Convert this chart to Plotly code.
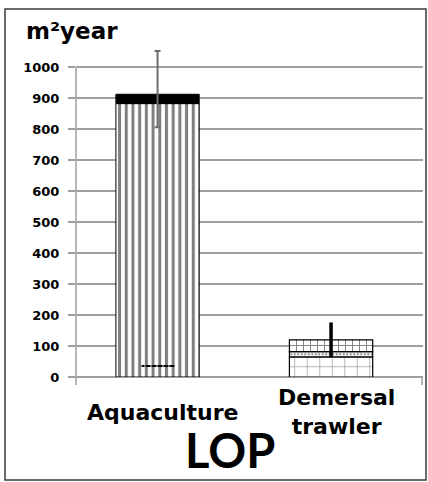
import plotly.graph_objects as go

# ---- data ----
categories = ["Aquaculture", "Demersal trawler"]
category_labels = ["Aquaculture", "Demersal<br>trawler"]

aqua_stripes = [882]        # vertical-stripe segment (0 -> 882)
aqua_top = [30]             # solid black cap (882 -> 912)
aqua_mark_base = [32]       # small dashed mark inside the bar
aqua_mark_height = [7]
aqua_err_plus = [140]
aqua_err_minus = [106]

dem_dotted = [65]           # dotted-grid segment
dem_mid = [17]              # fine dotted band
dem_brick = [38]            # brick segment
dem_err = [56]

y_ticks = [0, 100, 200, 300, 400, 500, 600, 700, 800, 900, 1000]

axis_title = "m²year"
chart_label = "LOP"

# ---- style ----
OFF = -0.27
W = 0.48
FONT = "DejaVu Sans"
grid_col = "#9f9f9f"

fig = go.Figure()

a = categories[0]
d = categories[1]

# Aquaculture
fig.add_trace(go.Bar(
    x=[a], y=aqua_stripes, base=[0], offset=OFF, width=W,
    marker=dict(color="white", line=dict(color="black", width=1),
                pattern=dict(shape="|", fgcolor="black", bgcolor="white",
                             size=6.7, solidity=0.45)),
    showlegend=False, hoverinfo="skip"))
fig.add_trace(go.Bar(
    x=[a], y=aqua_top, base=aqua_stripes, offset=OFF, width=W,
    marker=dict(color="black", line=dict(color="black", width=1)),
    error_y=dict(type="data", symmetric=False, array=aqua_err_plus,
                 arrayminus=aqua_err_minus, color="#6e6e6e",
                 thickness=2, width=3),
    showlegend=False, hoverinfo="skip"))
fig.add_trace(go.Bar(
    x=[a], y=aqua_mark_height, base=aqua_mark_base, offset=-0.122, width=0.192,
    marker=dict(color="black", line=dict(width=0),
                pattern=dict(shape="|", fgcolor="white", bgcolor="black",
                             size=6, solidity=0.28)),
    showlegend=False, hoverinfo="skip"))

# Demersal trawler
fig.add_trace(go.Bar(
    x=[d], y=dem_dotted, base=[0], offset=OFF, width=W,
    marker=dict(color="white", line=dict(color="black", width=1.2),
                pattern=dict(shape="+", fgcolor="#222", bgcolor="white",
                             size=12.5, solidity=0.1)),
    showlegend=False, hoverinfo="skip"))
fig.add_trace(go.Bar(
    x=[d], y=dem_mid, base=dem_dotted, offset=OFF, width=W,
    marker=dict(color="white", line=dict(color="black", width=1.2),
                pattern=dict(shape=".", fgcolor="#111", bgcolor="white",
                             size=3.5, solidity=0.35)),
    showlegend=False, hoverinfo="skip"))
fig.add_trace(go.Bar(
    x=[d], y=dem_brick, base=[dem_dotted[0] + dem_mid[0]], offset=OFF, width=W,
    marker=dict(color="white", line=dict(color="black", width=1.2),
                pattern=dict(shape="+", fgcolor="black", bgcolor="white",
                             size=7, solidity=0.25)),
    error_y=dict(type="data", symmetric=True, array=dem_err,
                 color="black", thickness=3.5, width=0),
    showlegend=False, hoverinfo="skip"))

H = 329.0
px_per_unit = 310.0 / 1000.0

fig.update_layout(
    width=428, height=482,
    margin=dict(l=76, r=5, t=48, b=105),
    paper_bgcolor="white", plot_bgcolor="white",
    barmode="overlay",
    font=dict(family=FONT, color="black"),
    xaxis=dict(type="category", categoryorder="array", categoryarray=categories,
               range=[-0.5, 1.5], showticklabels=False, ticks="",
               showgrid=False, zeroline=False, showline=False),
    yaxis=dict(range=[0, H / px_per_unit], tickvals=y_ticks,
               ticktext=[str(v) for v in y_ticks],
               tickfont=dict(family=FONT, size=13, color="black", weight="bold"),
               ticks="outside", ticklen=7, tickwidth=1.5, tickcolor=grid_col,
               ticklabelstandoff=6,
               showgrid=True, gridcolor=grid_col, gridwidth=1.5,
               zeroline=True, zerolinecolor=grid_col, zerolinewidth=1.5,
               showline=False),
)

# axis line, end tick and outer frame
y_top = 1000 * px_per_unit / H
fig.add_shape(type="line", xref="paper", yref="paper", x0=0, x1=0,
              y0=-8 / H, y1=y_top, line=dict(color=grid_col, width=1.5))
fig.add_shape(type="line", xref="paper", yref="paper", x0=0.997, x1=0.997,
              y0=-8 / H, y1=0, line=dict(color=grid_col, width=1.5))
fig.add_shape(type="rect", xref="paper", yref="paper",
              x0=(5 - 76) / 347, x1=(426 - 76) / 347,
              y0=(377 - 480) / H, y1=(377 - 9) / H,
              line=dict(color="#3a3a3a", width=1.5), layer="below")

# category labels
for cat, lab in zip(categories, category_labels):
    fig.add_annotation(x=cat, xref="x", yref="paper", y=(377 - 412) / H,
                       text=lab, showarrow=False, yanchor="middle",
                       font=dict(family=FONT, size=22, color="black", weight="bold"))

fig.add_annotation(x=(24 - 76) / 347, y=(377 - 31) / H, xref="paper", yref="paper",
                   text=axis_title, showarrow=False, xanchor="left", yanchor="middle",
                   font=dict(family=FONT, size=23, color="black", weight="bold"))
fig.add_annotation(x=(229.5 - 76) / 347, y=(377 - 450) / H, xref="paper", yref="paper",
                   text=chart_label, showarrow=False, xanchor="center", yanchor="middle",
                   borderpad=0,
                   font=dict(family="Lato", size=47, color="black", weight="bold"))

fig.write_html("out.html",
               config={"displayModeBar": False},
               post_script="document.body.style.margin='0';"
                           "document.body.style.overflow='hidden';")
